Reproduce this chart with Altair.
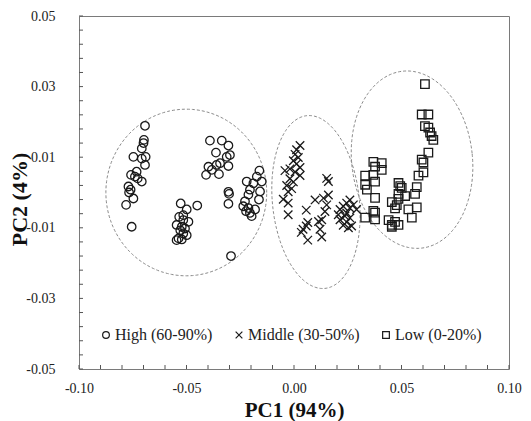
import altair as alt
import numpy as np
import pandas as pd

# PCA scores (PC1, PC2) for the three groups
high_pc1 = [-0.0693, -0.0698, -0.0700, -0.0708, -0.0747, -0.0690, -0.0708, -0.0693, -0.0732, -0.0758,
            -0.0740, -0.0727, -0.0708, -0.0770, -0.0760, -0.0767, -0.0747, -0.0781, -0.0755,
            -0.0527, -0.0450, -0.0499, -0.0515, -0.0534, -0.0515, -0.0491, -0.0546, -0.0522, -0.0507,
            -0.0529, -0.0515, -0.0499, -0.0537, -0.0522, -0.0546,
            -0.0391, -0.0336, -0.0305, -0.0363, -0.0298, -0.0313, -0.0344, -0.0360, -0.0398, -0.0305,
            -0.0382, -0.0409, -0.0349, -0.0305, -0.0302, -0.0305, -0.0293,
            -0.0161, -0.0173, -0.0150, -0.0220, -0.0189, -0.0205, -0.0158, -0.0212, -0.0163, -0.0228,
            -0.0236, -0.0212, -0.0223, -0.0205, -0.0197, -0.0181]
high_pc2 = [0.0189, 0.0149, 0.0140, 0.0125, 0.0101, 0.0101, 0.0096, 0.0078, 0.0059, 0.0050,
            0.0045, 0.0040, 0.0031, 0.0017, 0.0008, 0.0000, -0.0017, -0.0035, -0.0097,
            -0.0031, -0.0037, -0.0048, -0.0064, -0.0069, -0.0078, -0.0083, -0.0092, -0.0097, -0.0102,
            -0.0107, -0.0116, -0.0121, -0.0130, -0.0133, -0.0135,
            0.0147, 0.0147, 0.0133, 0.0113, 0.0106, 0.0101, 0.0083, 0.0078, 0.0073, 0.0075,
            0.0064, 0.0050, 0.0052, 0.0002, -0.0004, -0.0032, -0.0180,
            0.0062, 0.0045, 0.0031, 0.0031, 0.0026, 0.0008, 0.0003, -0.0006, -0.0020, -0.0025,
            -0.0039, -0.0044, -0.0053, -0.0058, -0.0067, -0.0048]

middle_pc1 = [0.0028, 0.0012, 0.0005, 0.0020, -0.0003, 0.0012, 0.0028, -0.0019, -0.0042, 0.0005,
              0.0028, -0.0019, -0.0003, -0.0034, -0.0011, -0.0027, -0.0050, -0.0027, -0.0027,
              0.0152, 0.0160, 0.0160, 0.0137, 0.0098, 0.0152, 0.0057, 0.0144, 0.0129, 0.0064,
              0.0114, 0.0042, 0.0057, 0.0121, 0.0034, 0.0129, 0.0064,
              0.0260, 0.0245, 0.0276, 0.0229, 0.0260, 0.0214, 0.0291, 0.0245, 0.0206, 0.0237,
              0.0260, 0.0214, 0.0245, 0.0229, 0.0268, 0.0253]
middle_pc2 = [0.0133, 0.0121, 0.0108, 0.0099, 0.0090, 0.0081, 0.0071, 0.0067, 0.0062, 0.0058,
              0.0048, 0.0039, 0.0030, 0.0020, 0.0011, 0.0002, -0.0019, -0.0030, -0.0063,
              0.0040, 0.0031, -0.0007, -0.0016, -0.0021, -0.0035, -0.0050, -0.0054, -0.0077, -0.0085,
              -0.0082, -0.0104, -0.0095, -0.0104, -0.0113, -0.0126, -0.0135,
              -0.0021, -0.0030, -0.0035, -0.0039, -0.0044, -0.0048, -0.0048, -0.0058, -0.0063, -0.0067,
              -0.0072, -0.0077, -0.0084, -0.0093, -0.0095, -0.0100]

low_pc1 = [0.0609, 0.0594, 0.0625, 0.0609, 0.0625, 0.0633, 0.0640, 0.0648, 0.0625, 0.0594,
           0.0602, 0.0602, 0.0579, 0.0571, 0.0563, 0.0571, 0.0548, 0.0532, 0.0517, 0.0486,
           0.0494, 0.0501, 0.0486, 0.0486, 0.0478, 0.0455, 0.0470, 0.0486, 0.0470, 0.0455,
           0.0440, 0.0455, 0.0369, 0.0408, 0.0331, 0.0377, 0.0369, 0.0377, 0.0339, 0.0377,
           0.0369, 0.0377, 0.0331, 0.0377, 0.0408, 0.0331]
low_pc2 = [0.0307, 0.0221, 0.0221, 0.0188, 0.0184, 0.0170, 0.0160, 0.0149, 0.0113, 0.0093,
           0.0085, 0.0057, 0.0048, 0.0015, -0.0004, -0.0042, -0.0071, -0.0048, -0.0010, 0.0027,
           0.0018, 0.0013, -0.0004, -0.0018, -0.0036, -0.0027, -0.0045, -0.0092, -0.0083, -0.0092,
           -0.0078, -0.0097, 0.0087, 0.0083, 0.0048, 0.0073, 0.0050, 0.0031, 0.0008, -0.0015,
           -0.0052, -0.0057, -0.0071, -0.0076, 0.0064, 0.0022]

groups = ["High (60-90%)", "Middle (30-50%)", "Low (0-20%)"]
shapes = ["circle", "M-1,-1L1,1M-1,1L1,-1", "square"]

# Confidence ellipses: centre, semi-axes (data units) and tilt in degrees
ell_cx = [-0.0501, 0.0102, 0.0549]
ell_cy = [0.0000, -0.0027, 0.0093]
ell_rx = [0.0374, 0.0202, 0.0281]
ell_ry = [0.0236, 0.0246, 0.0252]
ell_tilt = [0.0, 6.0, 6.0]

x_ticks = [-0.10, -0.05, 0.00, 0.05, 0.10]
y_ticks = [0.05, 0.03, 0.01, -0.01, -0.03, -0.05]
x_minor = [round(v, 3) for v in np.arange(-0.10, 0.1001, 0.01)]
y_minor = [round(v, 3) for v in np.arange(-0.05, 0.0501, 0.004)]

W, H = 430, 353
XDOM, YDOM = [-0.10, 0.10], [-0.05, 0.05]
FONT = "Liberation Serif"

pts = pd.concat([
    pd.DataFrame({"pc1": high_pc1, "pc2": high_pc2, "group": groups[0]}),
    pd.DataFrame({"pc1": middle_pc1, "pc2": middle_pc2, "group": groups[1]}),
    pd.DataFrame({"pc1": low_pc1, "pc2": low_pc2, "group": groups[2]}),
], ignore_index=True)

# aspect factor so that the tilt is applied in screen space
k = (H / (YDOM[1] - YDOM[0])) / (W / (XDOM[1] - XDOM[0]))
rows = []
t = np.linspace(0, 2 * np.pi, 241)
for i in range(3):
    a = ell_rx[i] * np.cos(t)
    b = ell_ry[i] * k * np.sin(t)
    th = np.radians(ell_tilt[i])
    xr = a * np.cos(th) - b * np.sin(th)
    yr = a * np.sin(th) + b * np.cos(th)
    for j in range(len(t)):
        rows.append({"e": i, "o": j, "pc1": ell_cx[i] + xr[j], "pc2": ell_cy[i] + yr[j] / k})
ell = pd.DataFrame(rows)

xs = alt.Scale(domain=XDOM, nice=False, zero=False)
ys = alt.Scale(domain=YDOM, nice=False, zero=False)

x_axis = alt.Axis(values=x_ticks, format=".2f", tickSize=0, domain=False, grid=False,
                  labelExpr="replace(datum.label, '\u2212', '-')", labelFlush=False,
                  labelPadding=12, labelFontSize=14, labelFont=FONT, labelColor="#222",
                  titleFont=FONT, titleFontSize=21, titleFontWeight="bold", titleColor="#111",
                  titleBaseline="alphabetic", titleY=47)
y_axis = alt.Axis(values=y_ticks, format=".2f", tickSize=0, domain=False, grid=False,
                  labelExpr="replace(datum.label, '\u2212', '-')", labelFlush=False,
                  labelPadding=24, labelFontSize=14, labelFont=FONT, labelColor="#222",
                  titleFont=FONT, titleFontSize=22, titleFontWeight="bold", titleColor="#111",
                  titleBaseline="alphabetic", titleAlign="center", titleX=-53, titleY=183,
                  titleAngle=-90)
XT, YT = "PC1 (94%)", "PC2 (4%)"

ellipses = alt.Chart(ell).mark_line(
    stroke="#8a8a8a", strokeWidth=1, strokeDash=[3, 2]
).encode(
    x=alt.X("pc1:Q", scale=xs, axis=x_axis, title=XT),
    y=alt.Y("pc2:Q", scale=ys, axis=y_axis, title=YT),
    detail="e:N",
    order="o:Q",
)

xt = alt.Chart(pd.DataFrame({"pc1": x_minor})).mark_rule(color="#555", strokeWidth=1).encode(
    x=alt.X("pc1:Q", scale=xs, axis=x_axis, title=XT),
    y=alt.value(H), y2=alt.value(H - 4),
)
yt = alt.Chart(pd.DataFrame({"pc2": y_minor})).mark_rule(color="#555", strokeWidth=1).encode(
    y=alt.Y("pc2:Q", scale=ys, axis=y_axis, title=YT),
    x=alt.value(0), x2=alt.value(4),
)

points = alt.Chart(pts).mark_point(
    filled=False, color="#1a1a1a", strokeWidth=1.3, size=72, opacity=1
).encode(
    x=alt.X("pc1:Q", scale=xs, axis=x_axis, title=XT),
    y=alt.Y("pc2:Q", scale=ys, axis=y_axis, title=YT),
    shape=alt.Shape("group:N", scale=alt.Scale(domain=groups, range=shapes), title=None,
                    legend=alt.Legend(orient="none", legendX=19, legendY=311, direction="horizontal",
                                      columns=3, columnPadding=18, labelFont=FONT, labelFontSize=16,
                                      labelColor="#222", labelOffset=1, symbolSize=45,
                                      symbolStrokeColor="#1a1a1a", symbolStrokeWidth=1.2,
                                      symbolFillColor="transparent", padding=0)),
)

chart = alt.layer(ellipses, xt, yt, points).properties(
    width=W, height=H,
    autosize=alt.AutoSizeParams(type="none"),
    padding={"left": 79, "top": 16, "right": 22, "bottom": 52},
    background="white",
).configure_view(stroke="#7a7a7a", strokeWidth=1)

chart.save("out.html", embed_options={"renderer": "svg", "actions": False})
